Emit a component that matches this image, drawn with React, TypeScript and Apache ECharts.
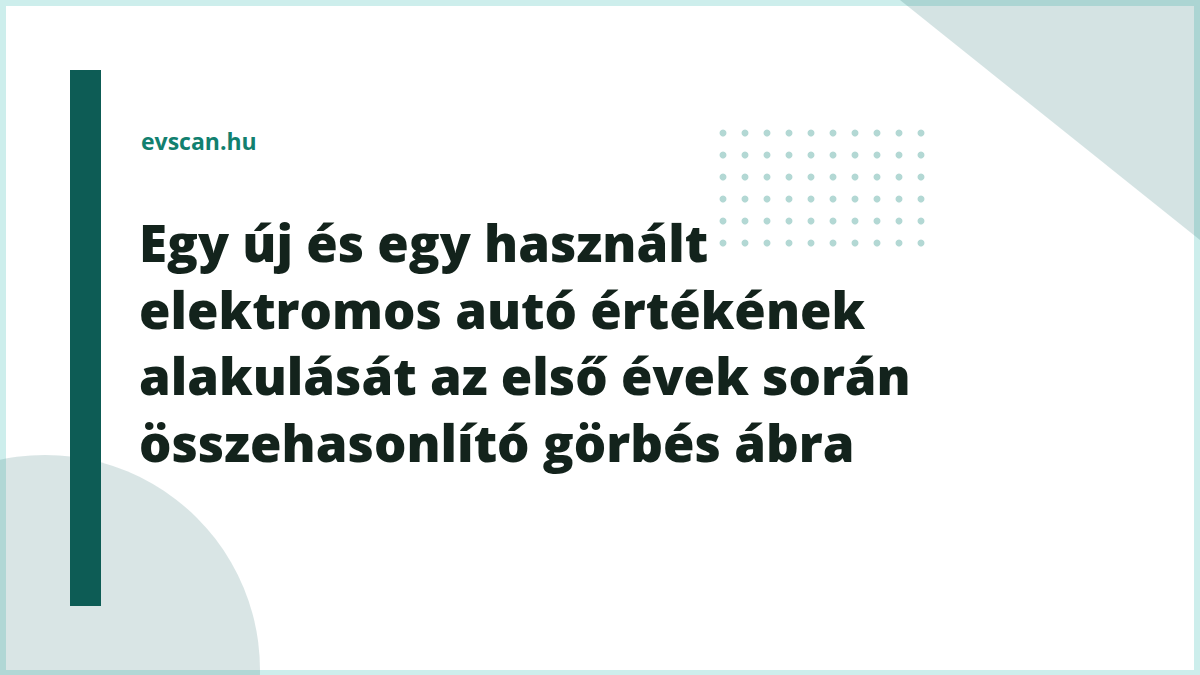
import { useEffect, useRef } from "react";
import * as echarts from "echarts";

// title card content
const siteName = "evscan.hu";
const titleLines = [
  "Egy új és egy használt",
  "elektromos autó értékének",
  "alakulását az első évek során",
  "összehasonlító görbés ábra",
];

// decorative dot grid (columns x rows)
const dotCols = [1, 2, 3, 4, 5, 6, 7, 8, 9, 10];
const dotRows = [1, 2, 3, 4, 5, 6];

const W = 1200;
const H = 675;

export default function App() {
  const chartRef = useRef<HTMLDivElement>(null);

  useEffect(() => {
    const chart = echarts.init(chartRef.current, null, { renderer: "svg" });

    const dots: number[][] = [];
    dotRows.forEach((r) => dotCols.forEach((c) => dots.push([c, r])));

    const titleFont = {
      fontFamily: "'Open Sans', sans-serif",
      fontWeight: 800,
      fontSize: 51,
      fill: "#13231c",
    };

    const options = {
      animation: false,
      backgroundColor: "#ffffff",
      grid: { left: 723, top: 133, width: 198, height: 110 },
      xAxis: { type: "value", min: 1, max: 10, show: false },
      yAxis: { type: "value", min: 1, max: 6, inverse: true, show: false },
      series: [
        {
          type: "scatter",
          data: dots,
          symbol: "circle",
          symbolSize: 7,
          itemStyle: { color: "#b3d8d4", opacity: 1 },
          silent: true,
          z: 5,
        },
      ],
      graphic: [
        // frame
        {
          type: "rect",
          shape: { x: 0, y: 0, width: W, height: H },
          style: { fill: "#cdeeec" },
          z: -10,
        },
        {
          type: "rect",
          shape: { x: 6, y: 6, width: W - 12, height: H - 11 },
          style: { fill: "#ffffff" },
          z: -9,
        },
        // corner triangle
        {
          type: "polygon",
          shape: { points: [[900, 0], [W, 0], [W, 240]] },
          style: { fill: "rgba(40,115,115,0.2)" },
          z: -8,
        },
        // bottom-left circle
        {
          type: "circle",
          shape: { cx: 45, cy: 670, r: 215 },
          style: { fill: "rgba(65,125,125,0.2)" },
          z: -8,
        },
        // accent bar
        {
          type: "rect",
          shape: { x: 70, y: 70, width: 31, height: 536 },
          style: { fill: "#0d5c55" },
          z: 1,
        },
        {
          type: "text",
          x: 141,
          y: 141,
          style: {
            text: siteName,
            fontFamily: "'Open Sans', sans-serif",
            fontWeight: 700,
            fontSize: 23,
            fill: "#11806f",
            verticalAlign: "middle",
          },
          z: 2,
        },
        ...titleLines.map((line, i) => ({
          type: "text",
          x: 139,
          y: 242 + i * 66.5,
          style: { ...titleFont, text: line, verticalAlign: "middle" },
          z: 2,
        })),
      ],
    };

    chart.setOption(options);

    return () => {
      chart.dispose();
    };
  }, []);

  return (
    <div
      ref={chartRef}
      style={{ position: "fixed", left: 0, top: 0, width: W + "px", height: H + "px" }}
    />
  );
}
